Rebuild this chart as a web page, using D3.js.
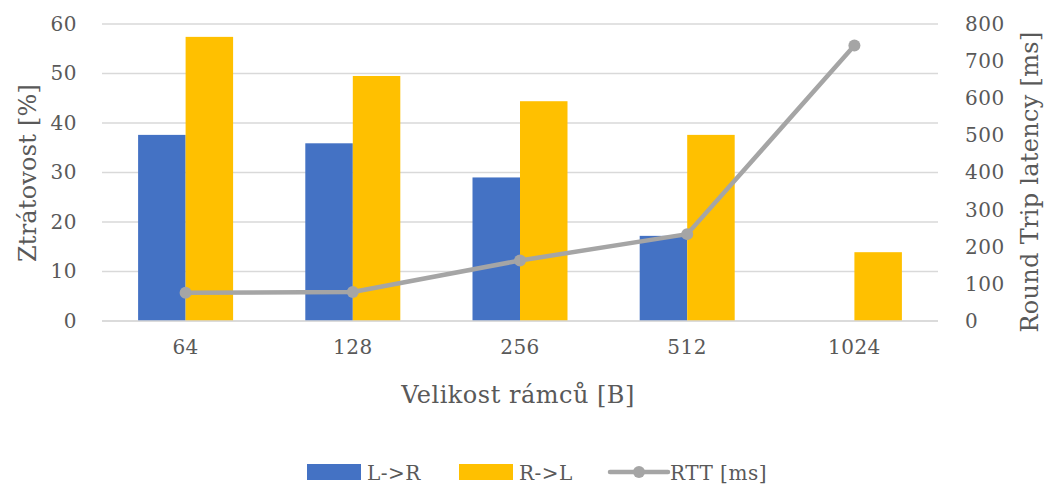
<!DOCTYPE html>
<html><head><meta charset="utf-8">
<script src="https://cdn.jsdelivr.net/npm/d3@7"></script>
<style>
html,body{margin:0;padding:0;background:#fff;}
</style></head>
<body><svg id="c" width="1044" height="486"></svg>
<script>
const categories = ["64","128","256","512","1024"];
const lossLR = [37.6, 35.9, 29.0, 17.2, 0];
const lossRL = [57.4, 49.5, 44.4, 37.6, 13.9];
const rtt = [76, 78, 163, 234, 742];
const leftTicks = [0,10,20,30,40,50,60];
const rightTicks = [0,100,200,300,400,500,600,700,800];
const seriesNames = ["L->R","R->L","RTT [ms]"];
const colors = ["#4472C4","#FFC000","#A5A5A5"];

const FONT = "'DejaVu Serif'";
const svg = d3.select("#c");
const plot = {left:102, right:938, top:24, bottom:321};

const x = d3.scaleBand().domain(categories).range([plot.left, plot.right]).paddingInner(0).paddingOuter(0);
const yL = d3.scaleLinear().domain([0,60]).range([plot.bottom, plot.top]);
const yR = d3.scaleLinear().domain([0,800]).range([plot.bottom, plot.top]);

function styleText(sel, size, ls){
  sel.style("font-family", FONT).style("font-size", size+"px")
     .style("letter-spacing", ls+"px").style("fill","#595959");
}

svg.append("g").selectAll("line").data(leftTicks).join("line")
  .attr("x1", plot.left).attr("x2", plot.right)
  .attr("y1", d=>yL(d)).attr("y2", d=>yL(d))
  .attr("stroke","#D9D9D9").attr("stroke-width",1.6);

const gL = svg.append("g").attr("transform",`translate(${plot.left},0)`)
  .call(d3.axisLeft(yL).tickValues(leftTicks).tickSize(0).tickPadding(25));
gL.select(".domain").remove();
styleText(gL.selectAll("text"), 20, 0.5);

const gR = svg.append("g").attr("transform",`translate(${plot.right},0)`)
  .call(d3.axisRight(yR).tickValues(rightTicks).tickSize(0).tickPadding(27));
gR.select(".domain").remove();
styleText(gR.selectAll("text"), 20, 0.5);

const gX = svg.append("g").attr("transform",`translate(0,${plot.bottom})`)
  .call(d3.axisBottom(x).tickSize(0).tickPadding(19));
gX.select(".domain").remove();
styleText(gX.selectAll("text"), 20, 0.5);

const sub = d3.scaleBand().domain([0,1]).range([0, x.bandwidth()]).paddingOuter(0.76).paddingInner(0);
const barData = [];
categories.forEach((c,i)=>{ barData.push({c, k:0, v:lossLR[i]}); barData.push({c, k:1, v:lossRL[i]}); });
svg.append("g").selectAll("rect").data(barData).join("rect")
  .attr("x", d=>x(d.c)+sub(d.k))
  .attr("width", sub.bandwidth())
  .attr("y", d=>yL(d.v))
  .attr("height", d=>yL(0)-yL(d.v))
  .attr("fill", d=>colors[d.k]);

svg.append("line").attr("x1",plot.left).attr("x2",plot.right)
  .attr("y1",yL(0)).attr("y2",yL(0)).attr("stroke","#D9D9D9").attr("stroke-width",1.6);

const pts = categories.map((c,i)=>[x(c)+x.bandwidth()/2, yR(rtt[i])]);
svg.append("path").attr("d", d3.line()(pts)).attr("fill","none")
  .attr("stroke",colors[2]).attr("stroke-width",4.5).attr("stroke-linejoin","round").attr("stroke-linecap","round");
svg.append("g").selectAll("circle").data(pts).join("circle")
  .attr("cx",d=>d[0]).attr("cy",d=>d[1]).attr("r",6).attr("fill",colors[2]);

styleText(svg.append("text").attr("x",518).attr("y",403).attr("text-anchor","middle")
  .text("Velikost rámců [B]"), 24, 0.5);
styleText(svg.append("text").attr("transform","translate(36,173) rotate(-90)").attr("text-anchor","middle")
  .text("Ztrátovost [%]"), 24, 0.2);
styleText(svg.append("text").attr("transform","translate(1038,182) rotate(-90)").attr("text-anchor","middle")
  .text("Round Trip latency [ms]"), 24, 0.3);

const leg = svg.append("g");
const legItems = [
  {name:seriesNames[0], color:colors[0], type:"rect", x:307},
  {name:seriesNames[1], color:colors[1], type:"rect", x:459},
  {name:seriesNames[2], color:colors[2], type:"line", x:610}
];
legItems.forEach(it=>{
  if(it.type==="rect"){
    leg.append("rect").attr("x",it.x).attr("y",464).attr("width",54).attr("height",16).attr("fill",it.color);
  } else {
    leg.append("line").attr("x1",it.x).attr("x2",it.x+58).attr("y1",472).attr("y2",472)
      .attr("stroke",it.color).attr("stroke-width",4.5).attr("stroke-linecap","round");
    leg.append("circle").attr("cx",it.x+29).attr("cy",472).attr("r",6).attr("fill",it.color);
  }
  styleText(leg.append("text").attr("x",it.x+60).attr("y",480).text(it.name), 20, 0.5);
});
</script></body></html>
